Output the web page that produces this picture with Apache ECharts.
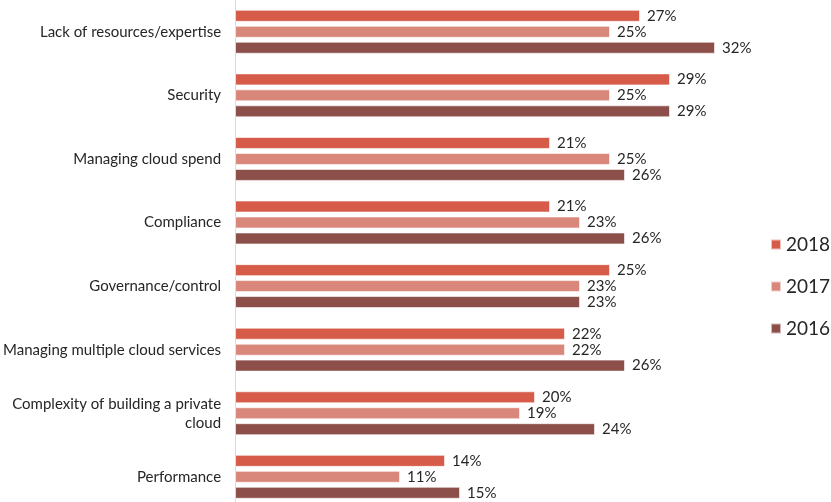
<!DOCTYPE html>
<html>
<head>
<meta charset="utf-8">
<script src="https://cdn.jsdelivr.net/npm/echarts@6/dist/echarts.min.js"></script>
<style>
  html, body { margin: 0; padding: 0; background: #fff; overflow: hidden; }
  #chart { width: 831px; height: 520px; }
</style>
</head>
<body>
<div id="chart"></div>
<script>
// categories, top to bottom
var categories = [
  "Lack of resources/expertise",
  "Security",
  "Managing cloud spend",
  "Compliance",
  "Governance/control",
  "Managing multiple cloud services",
  "Complexity of building a private\ncloud",
  "Performance"
];
var years = ["2018", "2017", "2016"];
var data2018 = [27, 29, 21, 21, 25, 22, 20, 14];
var data2017 = [25, 25, 25, 23, 23, 22, 19, 11];
var data2016 = [32, 29, 26, 26, 23, 26, 24, 15];
var colors = ["#d65c49", "#d9877b", "#8c4f4a"];

var chart = echarts.init(document.getElementById("chart"));

function makeSeries(name, values, color) {
  return {
    name: name,
    type: "bar",
    data: values,
    barWidth: 12,
    barGap: "33%",
    itemStyle: { color: color, borderColor: "rgba(255,255,255,0.6)", borderWidth: 1 },
    label: {
      show: true,
      position: "right",
      distance: 7,
      formatter: "{c}%",
      fontFamily: "Lato",
      fontSize: 15,
      color: "#262626"
    }
  };
}

var option = {
  animation: false,
  textStyle: { fontFamily: "Lato" },
  grid: { left: 234.5, top: 0, height: 508.6, right: 56 },
  legend: {
    orient: "vertical",
    left: 765,
    top: 230,
    itemWidth: 10,
    itemHeight: 10,
    itemGap: 23,
    icon: "rect",
    textStyle: { fontFamily: "Lato", fontSize: 19, color: "#262626" },
    data: years
  },
  xAxis: {
    type: "value",
    min: 0,
    max: 36,
    show: false
  },
  yAxis: {
    type: "category",
    inverse: true,
    data: categories,
    axisLine: { show: true, lineStyle: { color: "#d9d9d9", width: 1 } },
    axisTick: { show: false },
    axisLabel: {
      margin: 14,
      fontFamily: "Lato",
      fontSize: 15,
      color: "#262626",
      lineHeight: 19,
      align: "right"
    }
  },
  series: [
    makeSeries(years[0], data2018, colors[0]),
    makeSeries(years[1], data2017, colors[1]),
    makeSeries(years[2], data2016, colors[2])
  ]
};

chart.setOption(option);
</script>
</body>
</html>
